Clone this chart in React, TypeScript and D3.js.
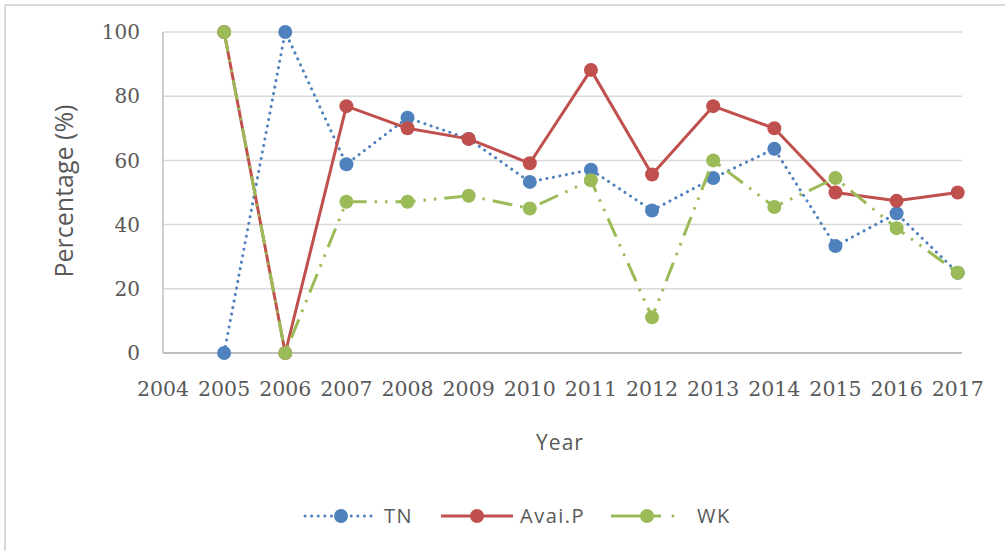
import React from "react";
import * as d3 from "d3";

const years = [2005, 2006, 2007, 2008, 2009, 2010, 2011, 2012, 2013, 2014, 2015, 2016, 2017];
const tn = [0, 100, 58.8, 73.3, 66.7, 53.3, 57.1, 44.4, 54.5, 63.6, 33.3, 43.5, 25];
const avaiP = [100, 0, 76.9, 70, 66.7, 59.1, 88.2, 55.6, 76.9, 70, 50, 47.4, 50];
const wk = [100, 0, 47.1, 47.1, 49, 45, 53.8, 11.1, 60, 45.5, 54.5, 38.9, 25];
const xTicks = [2004, 2005, 2006, 2007, 2008, 2009, 2010, 2011, 2012, 2013, 2014, 2015, 2016, 2017];
const yTicks = [0, 20, 40, 60, 80, 100];

const series = [
  { name: "TN", values: tn, color: "#4F81BD", dash: "0.1 6.5", cap: "round", width: 3 },
  { name: "Avai.P", values: avaiP, color: "#C0504D", dash: "", cap: "butt", width: 3 },
  { name: "WK", values: wk, color: "#9BBB59", dash: "20 8 2.5 8 2.5 8", cap: "butt", width: 3 },
];

const W = 1005;
const H = 551;
const left = 163;
const right = 962;
const top = 32;
const bottom = 353;

export default function App() {
  const x = d3.scaleLinear().domain([2004, 2017.07]).range([left, right]);
  const y = d3.scaleLinear().domain([0, 100]).range([bottom, top]);
  const line = d3
    .line<number>()
    .x((_, i) => x(years[i]))
    .y((d) => y(d));
  const textColor = "#595959";
  const serif = "'DejaVu Serif', 'Liberation Serif', serif";
  const sans = "'Open Sans', 'Liberation Sans', sans-serif";

  const legendX = [305, 441, 611];

  return (
    <svg width={W} height={H} style={{ position: "absolute", left: 0, top: 0, background: "#fff" }}>
      <rect x={0} y={0} width={W} height={H} fill="#fff" />
      <line x1={5} x2={W} y1={5} y2={5} stroke="#d9d9d9" strokeWidth={2} />
      <line x1={5} x2={5} y1={5} y2={H} stroke="#d9d9d9" strokeWidth={2} />
      {yTicks.map((t) => (
        <g key={t}>
          <line x1={left} x2={right} y1={y(t)} y2={y(t)} stroke={t === 0 ? "#bfbfbf" : "#d9d9d9"} strokeWidth={t === 0 ? 2 : 1.5} />
          <text x={140} y={y(t)} dy="0.36em" textAnchor="end" fontFamily={serif} fontSize={20} fill={textColor}>
            {t}
          </text>
        </g>
      ))}
      <line x1={left} x2={left} y1={top} y2={bottom} stroke="#bfbfbf" strokeWidth={1.5} />
      {xTicks.map((t) => (
        <text key={t} x={x(t)} y={396} textAnchor="middle" fontFamily={serif} fontSize={20.5} fill={textColor}>
          {t}
        </text>
      ))}
      <text
        transform={`translate(73,191) rotate(-90)`}
        textAnchor="middle"
        fontFamily={sans}
        fontSize={25}
        fill={textColor}
      >
        Percentage (%)
      </text>
      <text x={560} y={450} textAnchor="middle" fontFamily={sans} fontSize={21} letterSpacing={1} fill={textColor}>
        Year
      </text>
      {series.map((s) => (
        <g key={s.name}>
          <path
            d={line(s.values) || ""}
            fill="none"
            stroke={s.color}
            strokeWidth={s.width}
            strokeDasharray={s.dash}
            strokeLinecap={s.cap as any}
            strokeLinejoin="round"
          />
          {s.values.map((v, i) => (
            <circle key={i} cx={x(years[i])} cy={y(v)} r={7} fill={s.color} />
          ))}
        </g>
      ))}
      {series.map((s, i) => (
        <g key={s.name} transform={`translate(${legendX[i]},516)`}>
          <line
            x1={0}
            x2={i === 2 ? 50 : 72}
            y1={0}
            y2={0}
            stroke={s.color}
            strokeWidth={3}
            strokeDasharray={i === 0 ? "0.1 6.5" : ""}
            strokeLinecap={i === 0 ? "round" : "butt"}
          />
          {i === 2 && <circle cx={62} cy={0} r={1.5} fill={s.color} />}
          <circle cx={36} cy={0} r={7} fill={s.color} />
          <text x={i === 2 ? 86 : 79} y={0} dy="0.36em" fontFamily={sans} fontSize={20} letterSpacing={1.5} fill={textColor}>
            {s.name}
          </text>
        </g>
      ))}
    </svg>
  );
}
